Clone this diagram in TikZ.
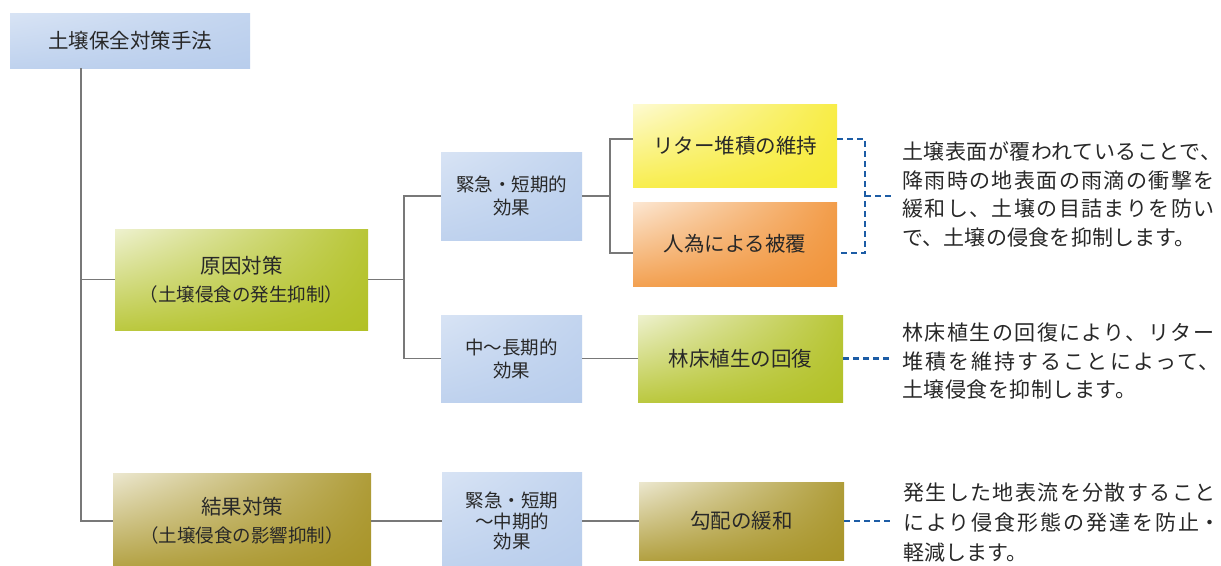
\documentclass[tikz,border=0pt]{standalone}
\usepackage{fontspec}
\setmainfont{Noto Sans CJK JP}
\usetikzlibrary{shadings}
\newcommand\parafont[1]{\fontsize{21}{#1}\selectfont}
\newcommand\tline[2]{{\addfontfeature{LetterSpace=#1}#2}}
\newcommand\tailpunct[2]{\makebox[#1][l]{#2}}
\definecolor{txt}{RGB}{40,40,40}
\definecolor{conncol}{RGB}{120,120,120}
\definecolor{dashcol}{RGB}{28,92,165}
\definecolor{bluebox}{RGB}{184,205,236}
\definecolor{yellowbox}{RGB}{247,235,55}
\definecolor{orangebox}{RGB}{241,148,58}
\definecolor{limebox}{RGB}{178,193,38}
\definecolor{olivebox}{RGB}{168,148,40}
\tikzset{
  box/.style={inner sep=0pt, text=txt, align=center, shade,
    upper left=#1!22!white, upper right=#1!92!white, lower left=#1!88!white, lower right=#1},
  bluebx/.style={inner sep=0pt, text=txt, align=center, shade,
    upper left=bluebox!55!white, upper right=bluebox!85!white, lower left=bluebox!90!white, lower right=bluebox},
  big/.style={font=\fontsize{20.5}{28}\selectfont},
  small/.style={font=\fontsize{18.5}{23}\selectfont},
  conn/.style={draw=conncol, line width=1.2pt},
  dashline/.style={draw=dashcol, line width=2.2pt, dash pattern=on 6pt off 4pt},
  para/.style={inner sep=0pt, text=txt, align=left, anchor=north west,
    font=\parafont{28.5}}
}
\begin{document}
\begin{tikzpicture}[x=1pt,y=-1pt]
\useasboundingbox (0,0) rectangle (1221,565);
\fill[white] (0,0) rectangle (1221,565);
\clip (0,0) rectangle (1221,565);

% boxes
\node[bluebx, big, minimum width=240pt, minimum height=55pt] (top) at (130,40.5) {土壌保全対策手法};
\node[box=limebox, big, minimum width=253pt, minimum height=101pt] (genin) at (241.5,279.5)
  {原因対策\\{\fontsize{18.5}{23}\selectfont （土壌侵食の発生抑制）}};
\node[box=olivebox, big, minimum width=258pt, minimum height=96pt] (kekka) at (242,521)
  {結果対策\\{\fontsize{18.5}{23}\selectfont （土壌侵食の影響抑制）}};

\node[bluebx, small, minimum width=141pt, minimum height=88pt] (kyu1) at (511.5,196) {緊急・短期的\\効果};
\node[bluebx, small, minimum width=141pt, minimum height=87pt] (chu) at (511.5,358.5) {中〜長期的\\効果};
\node[bluebx, font=\fontsize{18.5}{20.5}\selectfont, minimum width=140pt, minimum height=98pt] (kyu2) at (512,521) {緊急・短期\\〜中期的\\効果};

\node[box=yellowbox, big, minimum width=204pt, minimum height=83pt] (litter) at (735,145.5) {リター堆積の維持};
\node[box=orangebox, big, minimum width=204pt, minimum height=84pt] (jini) at (735,244) {\raisebox{-4pt}{人為による被覆}};
\node[box=limebox, big, minimum width=205pt, minimum height=87pt] (rinsho) at (740.5,358.5) {林床植生の回復};
\node[box=olivebox, big, minimum width=205pt, minimum height=78pt] (kobai) at (741.5,521) {勾配の緩和};

% coordinates
\coordinate (tk) at (81,0);
\coordinate (j1) at (404,279.5);
\coordinate (j2) at (610,196);
\coordinate (b1) at (865,196);
\coordinate (d1) at (892,196);
\coordinate (d2) at (892,358.5);
\coordinate (d3) at (893,521);

% connectors
\draw[conn] (top.south -| tk) |- (genin.west);
\draw[conn] (top.south -| tk) |- (kekka.west);
\draw[conn] (genin.east) -- (j1);
\draw[conn] (kyu1.west) -| (j1) |- (chu.west);
\draw[conn] (kyu1.east) -- (j2);
\draw[conn] ([yshift=6.5pt]litter.west) -| (j2) |- ([yshift=-9pt]jini.west);
\draw[conn] (chu.east) -- (rinsho.west);
\draw[conn] (kekka.east) -- (kyu2.west);
\draw[conn] (kyu2.east) -- (kobai.west);

\draw[dashline] ([yshift=6.5pt]litter.east) -| (b1) |- ([yshift=-9pt]jini.east);
\draw[dashline] (b1) -- (d1);
\draw[dashline] (rinsho.east) -- (d2);
\draw[dashline] (kobai.east) -- (d3);

% paragraphs
\node[para] (p1) at (902,142) {%
  \tline{2.4}{土壌表面が覆われていることで}\tailpunct{10pt}{、}\\
  \tline{6.7}{降雨時の地表面の雨滴の衝撃を}\\
  \tline{6.7}{緩和し、土壌の目詰まりを防い}\\
  \tline{1}{で、土壌の侵食を抑制します。}};
\node[para] (p2) at (902,323) {%
  \tline{7}{林床植生の回復により、リター}\\
  \tline{10}{堆積を維持することによって}\tailpunct{10pt}{、}\\
  \tline{2.4}{土壌侵食を抑制します。}};
\node[para, font=\parafont{30}] (p3) at (903,483) {%
  \tline{6.7}{発生した地表流を分散すること}\\
  \tline{9.5}{により侵食形態の発達を防止}\tailpunct{14pt}{・}\\
  軽減します。};
\end{tikzpicture}
\end{document}
